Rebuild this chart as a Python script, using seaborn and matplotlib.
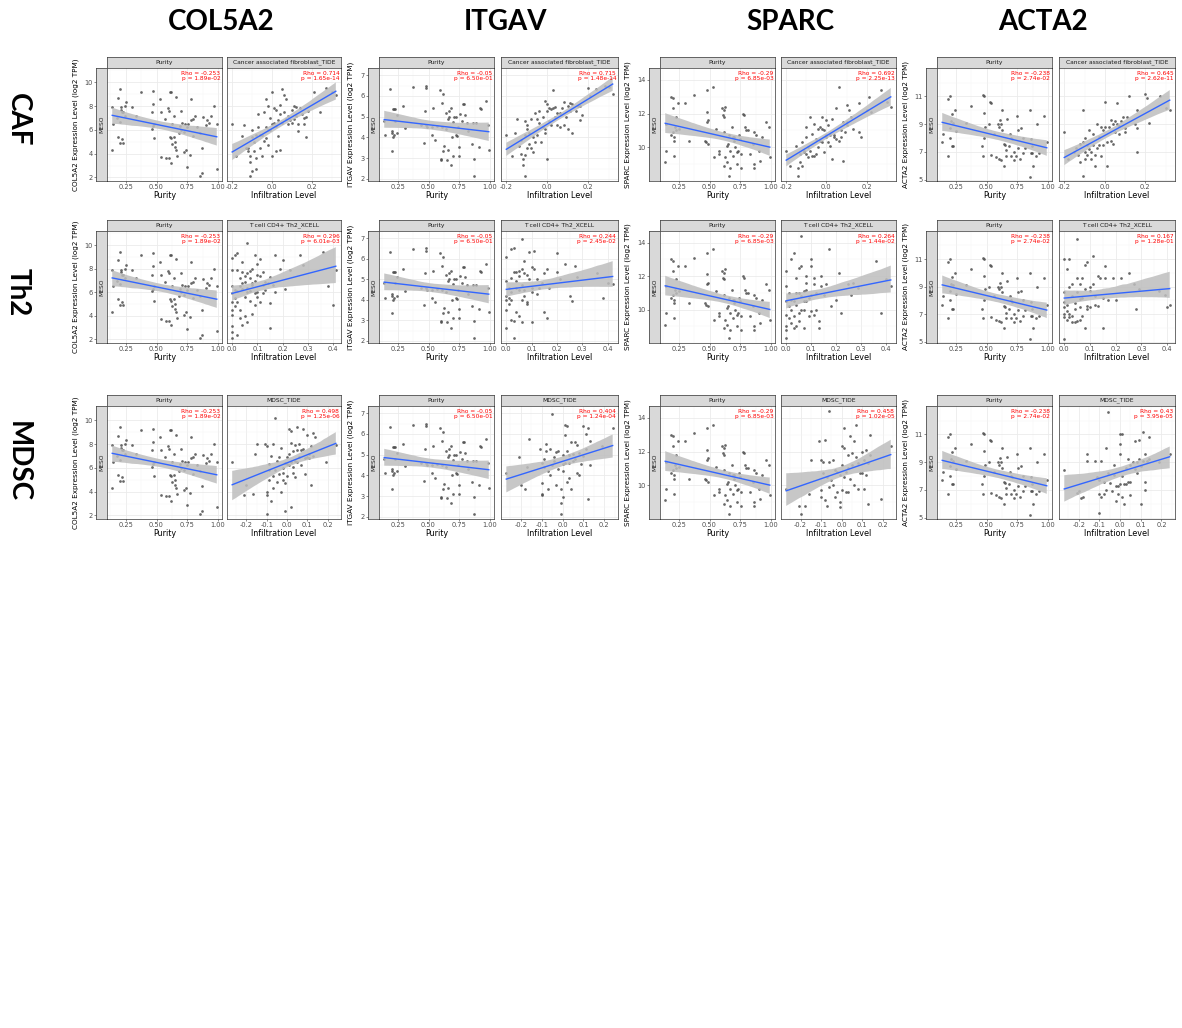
import numpy as np
import pandas as pd
import seaborn as sns
import matplotlib.pyplot as plt
from matplotlib.collections import PolyCollection
from matplotlib.ticker import AutoMinorLocator

W, H = 1182, 1028

genes = ["COL5A2", "ITGAV", "SPARC", "ACTA2"]
cells = ["CAF", "Th2", "MDSC"]
strip_titles = {"CAF": "Cancer associated fibroblast_TIDE",
                "Th2": "T cell CD4+ Th2_XCELL",
                "MDSC": "MDSC_TIDE"}

# purity vs expression (same panel in every row)
col5a2_purity = [(0.14, 7.9), (0.14, 4.3), (0.15, 6.5), (0.19, 8.7), (0.20, 9.4), (0.19, 5.4), (0.20, 4.9),
                 (0.21, 7.9), (0.21, 7.7), (0.22, 7.5), (0.22, 5.2), (0.23, 4.9), (0.23, 7.5), (0.24, 8.0),
                 (0.24, 7.2), (0.25, 8.3), (0.20, 6.7), (0.18, 7.0), (0.30, 7.9), (0.33, 7.2), (0.37, 9.2),
                 (0.47, 9.3), (0.47, 8.2), (0.46, 6.1), (0.47, 6.3), (0.48, 5.3), (0.46, 7.5), (0.48, 6.5),
                 (0.53, 8.6), (0.54, 7.5), (0.54, 3.7), (0.57, 6.9), (0.58, 3.6), (0.59, 7.8), (0.60, 7.6),
                 (0.61, 9.2), (0.62, 9.2), (0.61, 5.4), (0.62, 5.3), (0.60, 3.6), (0.62, 3.2), (0.63, 4.8),
                 (0.63, 6.5), (0.64, 7.2), (0.64, 5.4), (0.65, 5.0), (0.65, 4.6), (0.66, 8.8), (0.66, 4.3),
                 (0.67, 3.8), (0.68, 5.7), (0.69, 6.3), (0.70, 7.6), (0.70, 6.0), (0.71, 6.6), (0.72, 5.8),
                 (0.72, 4.1), (0.73, 6.5), (0.74, 4.3), (0.75, 2.9), (0.75, 6.2), (0.76, 6.5), (0.77, 3.9),
                 (0.78, 8.6), (0.78, 6.8), (0.80, 6.9), (0.80, 5.5), (0.81, 7.2), (0.83, 6.2), (0.85, 5.7),
                 (0.85, 2.1), (0.87, 4.5), (0.87, 2.4), (0.88, 7.1), (0.90, 6.4), (0.91, 6.8), (0.93, 6.6),
                 (0.94, 7.2), (0.97, 8.0), (0.99, 6.5), (0.99, 2.7)]
itgav_purity = [(0.14, 4.8), (0.15, 4.1), (0.19, 6.35), (0.20, 3.35), (0.20, 4.3), (0.20, 4.2), (0.21, 5.35),
                (0.21, 4.0), (0.22, 5.35), (0.22, 4.1), (0.23, 5.35), (0.23, 4.8), (0.24, 5.1), (0.24, 4.2),
                (0.29, 5.5), (0.31, 4.45), (0.37, 6.45), (0.46, 3.75), (0.47, 5.3), (0.48, 6.5), (0.48, 6.4),
                (0.48, 4.6), (0.49, 4.5), (0.53, 4.5), (0.53, 4.1), (0.54, 5.4), (0.55, 3.9), (0.59, 6.3),
                (0.60, 2.95), (0.60, 2.9), (0.61, 5.65), (0.61, 4.5), (0.62, 6.1), (0.62, 3.35), (0.63, 3.6),
                (0.64, 5.2), (0.64, 4.4), (0.65, 2.9), (0.66, 3.4), (0.66, 4.9), (0.67, 5.3), (0.67, 5.0),
                (0.68, 2.65), (0.68, 5.4), (0.69, 4.0), (0.70, 4.75), (0.70, 3.1), (0.71, 5.0), (0.72, 5.0),
                (0.72, 4.1), (0.73, 4.05), (0.74, 4.5), (0.75, 3.55), (0.75, 3.1), (0.76, 5.15), (0.77, 4.8),
                (0.78, 5.6), (0.79, 5.6), (0.80, 5.1), (0.81, 4.7), (0.82, 4.3), (0.85, 3.7), (0.86, 4.7),
                (0.87, 2.95), (0.87, 2.15), (0.89, 4.7), (0.91, 3.55), (0.92, 5.4), (0.93, 5.35), (0.97, 5.75),
                (0.98, 4.6), (0.99, 3.4), (0.57, 4.55), (0.44, 4.6)]
sparc_purity = [(0.14, 9.1), (0.15, 9.8), (0.15, 11.4), (0.19, 13.0), (0.20, 12.9), (0.20, 12.3), (0.19, 10.7),
                (0.20, 10.9), (0.21, 10.6), (0.21, 9.5), (0.21, 10.4), (0.22, 11.2), (0.23, 11.8), (0.23, 11.0),
                (0.24, 12.6), (0.25, 11.1), (0.30, 12.6), (0.33, 10.4), (0.37, 13.1), (0.46, 10.4), (0.47, 10.3),
                (0.48, 13.4), (0.48, 12.1), (0.48, 11.5), (0.49, 11.6), (0.49, 10.2), (0.53, 13.6), (0.54, 9.4),
                (0.55, 11.1), (0.58, 9.8), (0.58, 9.6), (0.60, 12.3), (0.61, 11.9), (0.62, 11.8), (0.62, 12.2),
                (0.62, 10.9), (0.62, 8.9), (0.63, 12.4), (0.63, 9.4), (0.64, 10.1), (0.64, 9.1), (0.65, 10.2),
                (0.66, 10.7), (0.66, 8.3), (0.67, 9.8), (0.67, 8.8), (0.68, 11.2), (0.69, 10.6), (0.69, 9.5),
                (0.70, 10.6), (0.70, 10.4), (0.71, 10.0), (0.72, 9.7), (0.72, 9.0), (0.73, 9.8), (0.74, 10.7),
                (0.75, 10.5), (0.76, 9.6), (0.76, 8.8), (0.77, 12.0), (0.78, 11.9), (0.79, 11.2), (0.80, 11.0),
                (0.81, 11.0), (0.83, 9.6), (0.85, 10.2), (0.86, 10.9), (0.86, 8.8), (0.86, 9.0), (0.88, 10.7),
                (0.90, 9.8), (0.91, 9.2), (0.93, 10.6), (0.96, 11.5), (0.98, 11.2), (0.99, 9.4)]
acta2_purity = [(0.14, 7.7), (0.15, 8.3), (0.19, 10.8), (0.20, 11.0), (0.19, 6.7), (0.20, 8.0), (0.20, 8.7),
                (0.21, 9.2), (0.22, 9.7), (0.22, 7.4), (0.23, 9.1), (0.23, 7.4), (0.24, 10.0), (0.25, 8.5),
                (0.33, 9.1), (0.37, 10.3), (0.46, 7.4), (0.47, 6.7), (0.47, 11.1), (0.48, 11.0), (0.48, 9.8),
                (0.48, 8.0), (0.49, 8.8), (0.52, 9.0), (0.53, 10.6), (0.54, 10.5), (0.54, 6.8), (0.56, 8.3),
                (0.58, 6.6), (0.59, 9.0), (0.60, 6.5), (0.60, 8.8), (0.61, 9.3), (0.62, 9.0), (0.62, 6.4),
                (0.63, 10.0), (0.63, 8.6), (0.64, 7.6), (0.64, 6.0), (0.65, 7.5), (0.66, 7.1), (0.66, 6.7),
                (0.67, 9.4), (0.68, 7.4), (0.69, 8.3), (0.70, 8.0), (0.70, 6.7), (0.71, 7.9), (0.72, 7.0),
                (0.72, 6.4), (0.74, 6.7), (0.75, 9.6), (0.76, 8.6), (0.76, 7.3), (0.77, 6.5), (0.78, 8.7),
                (0.80, 8.0), (0.80, 6.9), (0.81, 7.3), (0.85, 10.0), (0.86, 7.9), (0.86, 6.9), (0.87, 6.9),
                (0.87, 7.4), (0.85, 5.2), (0.88, 6.0), (0.90, 6.7), (0.91, 9.0), (0.93, 6.9), (0.97, 9.6),
                (0.99, 7.7)]

# infiltration level vs expression
col5a2_caf = [(-0.20, 6.5), (-0.18, 3.8), (-0.15, 5.5), (-0.14, 6.4), (-0.13, 4.5), (-0.12, 4.5), (-0.12, 4.2),
              (-0.11, 3.8), (-0.11, 2.1), (-0.11, 3.3), (-0.10, 2.5), (-0.10, 6.0), (-0.10, 5.4), (-0.09, 5.0),
              (-0.09, 4.2), (-0.08, 5.6), (-0.08, 3.6), (-0.08, 2.7), (-0.07, 7.3), (-0.07, 6.2), (-0.06, 5.6),
              (-0.05, 3.8), (-0.05, 5.6), (-0.04, 5.1), (-0.04, 7.5), (-0.03, 6.2), (-0.03, 8.6), (-0.03, 5.3),
              (-0.02, 8.0), (-0.02, 6.0), (-0.01, 7.0), (-0.01, 6.0), (0.00, 3.8), (0.00, 9.2), (0.00, 6.5),
              (0.01, 7.8), (0.01, 6.6), (0.02, 7.7), (0.02, 6.3), (0.03, 6.8), (0.03, 5.5), (0.04, 8.1),
              (0.04, 7.3), (0.04, 4.3), (0.05, 9.4), (0.05, 6.6), (0.06, 8.9), (0.06, 7.5), (0.07, 8.6),
              (0.07, 6.9), (0.08, 7.2), (0.08, 6.5), (0.09, 6.8), (0.10, 7.7), (0.10, 6.6), (0.11, 8.0),
              (0.11, 6.9), (0.12, 7.2), (0.12, 7.9), (0.13, 6.5), (0.13, 5.9), (0.14, 7.8), (0.15, 7.3),
              (0.16, 7.0), (0.16, 6.5), (0.17, 7.1), (0.17, 5.4), (0.18, 7.6), (0.21, 9.2), (0.24, 7.5),
              (0.27, 9.5), (0.30, 9.2), (0.32, 8.9), (-0.06, 4.5), (-0.02, 4.7), (0.02, 4.2)]
itgav_caf = [(-0.20, 4.1), (-0.17, 3.1), (-0.16, 4.2), (-0.15, 4.9), (-0.14, 3.6), (-0.13, 3.9), (-0.13, 3.2),
             (-0.12, 2.95), (-0.12, 2.65), (-0.11, 4.8), (-0.11, 4.1), (-0.11, 3.15), (-0.11, 2.15), (-0.10, 4.6),
             (-0.10, 4.4), (-0.10, 3.5), (-0.09, 4.2), (-0.09, 3.7), (-0.08, 3.5), (-0.08, 4.9), (-0.07, 4.0),
             (-0.07, 3.3), (-0.06, 5.2), (-0.05, 4.9), (-0.05, 4.1), (-0.04, 5.3), (-0.04, 4.7), (-0.03, 3.8),
             (-0.02, 5.0), (-0.02, 4.5), (-0.01, 5.75), (-0.01, 4.2), (0.00, 5.6), (0.00, 5.3), (0.00, 2.95),
             (0.01, 4.8), (0.01, 5.4), (0.02, 5.35), (0.02, 4.6), (0.03, 5.4), (0.03, 6.3), (0.04, 5.45),
             (0.04, 5.0), (0.05, 4.6), (0.05, 5.2), (0.06, 5.2), (0.06, 4.5), (0.07, 5.4), (0.08, 4.6),
             (0.08, 5.7), (0.09, 5.0), (0.10, 5.5), (0.10, 4.4), (0.11, 5.65), (0.11, 5.3), (0.12, 5.6),
             (0.12, 4.2), (0.14, 5.3), (0.15, 5.5), (0.16, 5.5), (0.16, 4.85), (0.17, 5.1), (0.20, 6.4),
             (0.21, 6.0), (0.24, 6.35), (0.28, 6.5), (0.30, 6.45), (0.32, 6.1), (-0.06, 3.8), (-0.01, 4.4)]
sparc_caf = [(-0.20, 9.8), (-0.18, 8.9), (-0.15, 10.1), (-0.14, 8.8), (-0.14, 8.3), (-0.13, 9.1), (-0.13, 9.6),
             (-0.12, 10.3), (-0.12, 8.9), (-0.11, 9.8), (-0.11, 9.7), (-0.10, 11.2), (-0.10, 10.6), (-0.10, 9.6),
             (-0.09, 10.0), (-0.09, 9.4), (-0.08, 11.8), (-0.08, 9.8), (-0.07, 10.8), (-0.07, 9.5), (-0.06, 11.4),
             (-0.06, 9.5), (-0.05, 10.5), (-0.05, 9.6), (-0.04, 11.1), (-0.04, 10.0), (-0.03, 11.2), (-0.03, 10.4),
             (-0.02, 11.8), (-0.02, 10.3), (-0.01, 11.0), (-0.01, 9.7), (0.00, 11.6), (0.00, 10.6), (0.00, 10.7),
             (0.01, 11.3), (0.01, 10.3), (0.02, 10.1), (0.02, 10.7), (0.03, 9.3), (0.03, 11.7), (0.04, 10.6),
             (0.04, 10.7), (0.05, 10.5), (0.05, 12.3), (0.06, 13.6), (0.06, 10.4), (0.07, 10.6), (0.08, 11.5),
             (0.08, 9.2), (0.09, 10.9), (0.10, 11.5), (0.10, 12.5), (0.10, 11.3), (0.11, 12.2), (0.12, 11.8),
             (0.13, 11.1), (0.16, 12.6), (0.16, 10.9), (0.17, 10.6), (0.20, 12.2), (0.21, 13.0), (0.22, 12.1),
             (0.27, 13.4), (0.30, 12.7), (0.32, 12.4), (-0.02, 11.1), (0.07, 11.0)]
acta2_caf = [(-0.20, 8.4), (-0.18, 6.5), (-0.15, 7.0), (-0.14, 7.3), (-0.13, 6.8), (-0.12, 7.6), (-0.12, 6.3),
             (-0.11, 5.25), (-0.11, 7.7), (-0.11, 10.0), (-0.10, 7.0), (-0.10, 8.0), (-0.10, 6.5), (-0.09, 7.5),
             (-0.09, 6.8), (-0.08, 8.6), (-0.08, 7.2), (-0.07, 7.0), (-0.07, 6.5), (-0.06, 8.3), (-0.06, 7.5),
             (-0.05, 6.8), (-0.05, 6.0), (-0.04, 7.3), (-0.03, 8.1), (-0.03, 7.5), (-0.02, 8.8), (-0.02, 6.7),
             (-0.01, 8.6), (-0.01, 7.5), (0.00, 10.6), (0.00, 8.8), (0.01, 7.7), (0.01, 6.0), (0.02, 8.8),
             (0.03, 9.3), (0.03, 7.8), (0.04, 9.0), (0.04, 7.6), (0.05, 9.2), (0.05, 8.4), (0.06, 10.5),
             (0.06, 9.0), (0.07, 8.9), (0.08, 9.2), (0.09, 9.5), (0.10, 8.7), (0.10, 8.4), (0.11, 9.5),
             (0.12, 11.0), (0.15, 9.0), (0.16, 10.0), (0.16, 7.0), (0.16, 8.7), (0.20, 11.2), (0.21, 10.9),
             (0.22, 9.1), (0.27, 11.0), (0.30, 10.2), (0.32, 10.0), (-0.04, 9.0), (0.07, 8.3)]

col5a2_th2 = [(0.00, 8.9), (0.00, 7.9), (0.00, 6.5), (0.00, 5.9), (0.00, 5.2), (0.00, 4.5), (0.00, 4.1), (0.00, 3.1),
              (0.00, 2.6), (0.00, 2.1), (0.01, 6.2), (0.01, 5.5), (0.01, 4.8), (0.01, 9.2), (0.02, 9.3), (0.02, 7.9),
              (0.02, 6.1), (0.02, 2.4), (0.02, 5.2), (0.03, 7.2), (0.03, 6.5), (0.03, 4.5), (0.03, 3.8), (0.04, 7.7),
              (0.04, 6.8), (0.04, 6.3), (0.04, 3.2), (0.05, 7.4), (0.05, 6.9), (0.05, 5.6), (0.05, 4.0), (0.06, 10.2),
              (0.06, 7.6), (0.06, 6.4), (0.06, 6.0), (0.06, 3.5), (0.07, 7.8), (0.07, 7.2), (0.07, 5.3), (0.08, 8.0),
              (0.08, 6.6), (0.08, 6.8), (0.09, 9.2), (0.09, 7.0), (0.09, 5.9), (0.09, 4.9), (0.10, 8.4), (0.10, 7.5),
              (0.10, 6.0), (0.10, 5.6), (0.11, 8.8), (0.11, 7.4), (0.12, 7.7), (0.12, 6.6), (0.12, 5.9), (0.13, 6.9),
              (0.13, 6.2), (0.14, 6.8), (0.15, 7.3), (0.15, 5.1), (0.15, 3.0), (0.16, 6.6), (0.17, 9.2), (0.17, 6.0),
              (0.19, 8.0), (0.20, 8.7), (0.21, 6.3), (0.23, 7.9), (0.27, 9.2), (0.28, 8.3), (0.36, 9.4), (0.38, 6.5),
              (0.40, 4.9), (0.41, 7.9), (0.07, 6.1), (0.11, 5.2), (0.04, 8.6), (0.08, 4.2)]
itgav_th2 = [(0.00, 6.1), (0.00, 4.9), (0.00, 4.2), (0.00, 4.0), (0.00, 3.5), (0.00, 2.65), (0.01, 4.6), (0.01, 4.1),
             (0.01, 3.8), (0.02, 6.45), (0.02, 5.05), (0.02, 4.4), (0.02, 3.0), (0.03, 6.5), (0.03, 5.35), (0.03, 2.95),
             (0.03, 2.15), (0.04, 5.35), (0.04, 4.9), (0.04, 4.6), (0.04, 3.4), (0.05, 5.15), (0.05, 4.5), (0.05, 3.2),
             (0.05, 5.4), (0.06, 5.5), (0.06, 6.95), (0.06, 4.7), (0.06, 4.0), (0.06, 2.9), (0.07, 5.3), (0.07, 4.5),
             (0.07, 4.2), (0.08, 5.2), (0.08, 3.9), (0.08, 3.8), (0.09, 6.35), (0.09, 5.0), (0.10, 5.6), (0.10, 4.6),
             (0.10, 4.4), (0.10, 2.9), (0.11, 6.4), (0.11, 5.5), (0.12, 5.0), (0.12, 4.3), (0.13, 4.6), (0.14, 4.8),
             (0.15, 5.3), (0.15, 3.4), (0.16, 5.5), (0.16, 3.1), (0.17, 4.6), (0.20, 6.3), (0.20, 5.35), (0.21, 5.0),
             (0.23, 5.75), (0.25, 4.2), (0.26, 3.95), (0.27, 5.65), (0.28, 5.1), (0.36, 5.3), (0.38, 4.1), (0.40, 4.8),
             (0.42, 4.75), (0.02, 4.0), (0.07, 5.9)]
sparc_th2 = [(0.00, 12.3), (0.00, 11.4), (0.00, 10.5), (0.00, 9.7), (0.00, 9.0), (0.00, 8.8), (0.00, 8.3), (0.01, 11.0),
             (0.01, 10.2), (0.01, 9.5), (0.02, 13.0), (0.02, 10.6), (0.02, 10.0), (0.02, 9.2), (0.03, 13.4), (0.03, 10.5),
             (0.03, 9.6), (0.03, 8.9), (0.04, 11.9), (0.04, 11.0), (0.04, 10.3), (0.04, 9.0), (0.05, 12.5), (0.05, 11.0),
             (0.05, 9.8), (0.05, 9.3), (0.06, 14.4), (0.06, 12.6), (0.06, 10.8), (0.06, 10.0), (0.07, 11.1), (0.07, 10.0),
             (0.07, 8.9), (0.08, 12.0), (0.08, 11.6), (0.08, 11.2), (0.08, 10.5), (0.09, 10.7), (0.09, 9.6), (0.10, 13.0),
             (0.10, 12.6), (0.10, 10.9), (0.10, 9.9), (0.11, 11.9), (0.11, 11.5), (0.11, 9.7), (0.12, 11.0), (0.13, 9.3),
             (0.13, 8.9), (0.14, 12.0), (0.14, 11.4), (0.15, 10.9), (0.16, 11.5), (0.17, 13.6), (0.18, 10.2), (0.20, 10.6),
             (0.21, 12.2), (0.22, 9.8), (0.25, 11.5), (0.26, 10.9), (0.27, 11.6), (0.29, 11.3), (0.36, 12.9), (0.38, 9.8),
             (0.40, 11.8), (0.42, 11.4), (0.07, 10.5), (0.12, 10.0)]
acta2_th2 = [(0.00, 11.0), (0.00, 8.6), (0.00, 7.9), (0.00, 7.5), (0.00, 7.0), (0.00, 6.8), (0.00, 5.2), (0.01, 10.3),
             (0.01, 7.7), (0.01, 7.2), (0.01, 6.6), (0.02, 11.0), (0.02, 9.0), (0.02, 7.0), (0.02, 6.8), (0.03, 9.2),
             (0.03, 8.3), (0.03, 6.9), (0.03, 6.4), (0.04, 7.8), (0.04, 7.4), (0.04, 6.4), (0.05, 12.5), (0.05, 9.6),
             (0.05, 8.6), (0.05, 6.5), (0.06, 9.2), (0.06, 7.5), (0.06, 6.6), (0.07, 9.6), (0.07, 8.2), (0.07, 6.9),
             (0.08, 10.6), (0.08, 8.8), (0.08, 6.0), (0.09, 10.8), (0.09, 7.6), (0.09, 7.4), (0.10, 9.0), (0.10, 8.7),
             (0.10, 7.5), (0.11, 11.2), (0.11, 9.2), (0.12, 8.3), (0.12, 7.7), (0.13, 9.8), (0.14, 9.6), (0.15, 8.2),
             (0.15, 6.0), (0.16, 9.6), (0.16, 10.5), (0.17, 8.0), (0.19, 9.6), (0.20, 8.0), (0.22, 9.6), (0.25, 10.0),
             (0.27, 9.2), (0.28, 7.4), (0.29, 8.8), (0.37, 8.7), (0.39, 8.4), (0.40, 7.5), (0.41, 7.7), (0.06, 8.1),
             (0.13, 7.6)]

col5a2_mdsc = [(-0.27, 6.5), (-0.21, 3.7), (-0.20, 4.6), (-0.17, 3.8), (-0.16, 7.2), (-0.15, 8.0), (-0.11, 8.0),
               (-0.10, 4.0), (-0.10, 3.7), (-0.10, 2.1), (-0.10, 7.8), (-0.09, 6.3), (-0.09, 5.8), (-0.09, 5.0),
               (-0.08, 7.0), (-0.08, 3.2), (-0.07, 8.0), (-0.07, 5.3), (-0.07, 4.3), (-0.06, 10.2), (-0.06, 5.8),
               (-0.05, 6.6), (-0.05, 4.8), (-0.04, 5.5), (-0.03, 7.7), (-0.03, 4.0), (-0.02, 6.0), (-0.02, 5.0),
               (-0.01, 6.4), (-0.01, 4.7), (-0.01, 2.4), (0.00, 6.9), (0.00, 6.3), (0.00, 5.3), (0.01, 9.3),
               (0.01, 7.2), (0.01, 6.2), (0.02, 9.1), (0.02, 8.1), (0.02, 6.5), (0.02, 2.7), (0.03, 7.4), (0.03, 5.6),
               (0.04, 7.9), (0.04, 6.6), (0.04, 5.2), (0.05, 9.4), (0.05, 7.5), (0.05, 6.5), (0.06, 8.0), (0.07, 7.5),
               (0.07, 6.2), (0.08, 9.3), (0.08, 7.6), (0.09, 6.8), (0.09, 5.5), (0.10, 8.8), (0.10, 6.9), (0.11, 7.2),
               (0.11, 6.8), (0.12, 7.8), (0.12, 4.6), (0.13, 8.9), (0.13, 7.0), (0.14, 8.6), (0.19, 6.5), (0.24, 7.9),
               (0.06, 6.9), (-0.04, 6.9), (0.03, 6.1), (-0.02, 5.6)]
itgav_mdsc = [(-0.27, 4.1), (-0.21, 4.9), (-0.20, 3.55), (-0.18, 3.35), (-0.17, 4.4), (-0.16, 5.75), (-0.11, 5.3),
              (-0.10, 4.6), (-0.10, 3.65), (-0.10, 3.1), (-0.10, 3.05), (-0.09, 4.8), (-0.09, 4.4), (-0.08, 5.5),
              (-0.08, 5.2), (-0.07, 4.2), (-0.07, 3.35), (-0.06, 5.3), (-0.06, 4.0), (-0.05, 6.95), (-0.05, 4.5),
              (-0.04, 4.7), (-0.03, 5.15), (-0.03, 3.55), (-0.02, 5.2), (-0.02, 4.3), (-0.01, 3.35), (-0.01, 2.65),
              (-0.01, 2.15), (0.00, 5.0), (0.00, 4.55), (0.00, 4.2), (0.00, 2.95), (0.01, 6.45), (0.01, 5.95),
              (0.01, 4.6), (0.02, 6.4), (0.02, 5.2), (0.02, 3.7), (0.03, 5.0), (0.03, 4.6), (0.04, 5.6), (0.04, 3.35),
              (0.05, 5.05), (0.05, 4.7), (0.06, 5.6), (0.06, 4.8), (0.07, 4.1), (0.08, 5.1), (0.08, 4.0), (0.09, 4.55),
              (0.10, 6.4), (0.10, 4.95), (0.11, 6.0), (0.11, 5.3), (0.12, 6.3), (0.12, 2.85), (0.13, 5.65), (0.13, 4.5),
              (0.19, 5.4), (0.24, 6.3), (-0.04, 4.9), (0.07, 5.45), (0.03, 3.9)]
sparc_mdsc = [(-0.27, 9.8), (-0.21, 8.8), (-0.20, 8.3), (-0.18, 8.8), (-0.16, 9.5), (-0.15, 11.5), (-0.11, 12.6),
              (-0.10, 11.5), (-0.10, 9.7), (-0.10, 9.3), (-0.09, 10.7), (-0.09, 11.4), (-0.08, 12.7), (-0.08, 9.1),
              (-0.07, 10.5), (-0.07, 8.8), (-0.06, 14.4), (-0.06, 11.4), (-0.06, 9.9), (-0.05, 10.3), (-0.04, 11.5),
              (-0.03, 10.9), (-0.03, 9.3), (-0.02, 10.8), (-0.02, 9.6), (-0.01, 10.6), (-0.01, 9.0), (-0.01, 8.7),
              (0.00, 12.3), (0.00, 11.2), (0.00, 9.7), (0.01, 13.4), (0.01, 12.2), (0.01, 10.5), (0.02, 10.8),
              (0.02, 9.6), (0.03, 11.8), (0.03, 11.0), (0.04, 12.9), (0.04, 10.4), (0.05, 11.9), (0.05, 11.2),
              (0.06, 10.0), (0.07, 13.6), (0.07, 11.7), (0.08, 9.8), (0.08, 11.3), (0.09, 10.7), (0.10, 12.0),
              (0.10, 10.7), (0.11, 11.5), (0.11, 9.8), (0.12, 12.1), (0.12, 10.6), (0.13, 8.9), (0.13, 11.3),
              (0.14, 13.0), (0.14, 11.8), (0.19, 9.2), (0.24, 12.3), (0.06, 12.6), (-0.04, 10.0), (0.03, 9.6)]
acta2_mdsc = [(-0.27, 8.4), (-0.21, 6.8), (-0.20, 6.9), (-0.19, 6.4), (-0.18, 6.5), (-0.16, 9.6), (-0.16, 9.1),
              (-0.12, 9.1), (-0.11, 7.9), (-0.10, 7.7), (-0.10, 6.7), (-0.10, 5.3), (-0.09, 9.1), (-0.09, 6.5),
              (-0.08, 7.6), (-0.08, 6.7), (-0.07, 10.0), (-0.07, 7.0), (-0.06, 12.6), (-0.06, 8.2), (-0.05, 7.5),
              (-0.04, 6.9), (-0.03, 8.1), (-0.02, 7.3), (-0.02, 6.2), (-0.01, 7.3), (-0.01, 6.7), (0.00, 11.0),
              (0.00, 10.3), (0.00, 9.6), (0.00, 7.4), (0.01, 11.0), (0.01, 8.0), (0.01, 6.5), (0.02, 7.4), (0.02, 6.0),
              (0.03, 8.6), (0.03, 7.4), (0.04, 9.2), (0.04, 7.6), (0.05, 8.8), (0.05, 6.6), (0.06, 9.0), (0.07, 10.5),
              (0.07, 8.5), (0.08, 9.0), (0.08, 8.2), (0.09, 10.6), (0.09, 9.2), (0.10, 8.7), (0.10, 6.0), (0.11, 11.2),
              (0.11, 9.1), (0.12, 9.6), (0.12, 7.6), (0.12, 7.0), (0.13, 9.1), (0.14, 10.8), (0.14, 9.2), (0.19, 9.0),
              (0.24, 9.6), (0.05, 7.6), (-0.03, 8.8)]

purity_data = {"COL5A2": col5a2_purity, "ITGAV": itgav_purity, "SPARC": sparc_purity, "ACTA2": acta2_purity}
infil_data = {
    ("COL5A2", "CAF"): col5a2_caf, ("ITGAV", "CAF"): itgav_caf, ("SPARC", "CAF"): sparc_caf, ("ACTA2", "CAF"): acta2_caf,
    ("COL5A2", "Th2"): col5a2_th2, ("ITGAV", "Th2"): itgav_th2, ("SPARC", "Th2"): sparc_th2, ("ACTA2", "Th2"): acta2_th2,
    ("COL5A2", "MDSC"): col5a2_mdsc, ("ITGAV", "MDSC"): itgav_mdsc, ("SPARC", "MDSC"): sparc_mdsc, ("ACTA2", "MDSC"): acta2_mdsc,
}

purity_stats = {"COL5A2": ("-0.253", "1.89e-02"), "ITGAV": ("-0.05", "6.50e-01"),
                "SPARC": ("-0.29", "6.85e-03"), "ACTA2": ("-0.238", "2.74e-02")}
infil_stats = {
    ("COL5A2", "CAF"): ("0.714", "1.65e-14"), ("ITGAV", "CAF"): ("0.715", "1.48e-14"),
    ("SPARC", "CAF"): ("0.692", "2.25e-13"), ("ACTA2", "CAF"): ("0.645", "2.62e-11"),
    ("COL5A2", "Th2"): ("0.296", "6.01e-03"), ("ITGAV", "Th2"): ("0.244", "2.45e-02"),
    ("SPARC", "Th2"): ("0.264", "1.44e-02"), ("ACTA2", "Th2"): ("0.167", "1.28e-01"),
    ("COL5A2", "MDSC"): ("0.498", "1.25e-06"), ("ITGAV", "MDSC"): ("0.404", "1.24e-04"),
    ("SPARC", "MDSC"): ("0.458", "1.02e-05"), ("ACTA2", "MDSC"): ("0.43", "3.95e-05"),
}

y_ticks = {"COL5A2": [2, 4, 6, 8, 10], "ITGAV": [2, 3, 4, 5, 6, 7], "SPARC": [10, 12, 14], "ACTA2": [5, 7, 9, 11]}
y_lims = {"COL5A2": (1.7, 11.2), "ITGAV": (1.9, 7.35), "SPARC": (8.0, 14.7), "ACTA2": (4.9, 13.05)}
x_ticks = {"Purity": ([0.25, 0.5, 0.75, 1.0], ["0.25", "0.50", "0.75", "1.00"]),
           "CAF": ([-0.2, 0.0, 0.2], ["-0.2", "0.0", "0.2"]),
           "Th2": ([0.0, 0.1, 0.2, 0.3, 0.4], ["0.0", "0.1", "0.2", "0.3", "0.4"]),
           "MDSC": ([-0.2, -0.1, 0.0, 0.1, 0.2], ["-0.2", "-0.1", "0.0", "0.1", "0.2"])}

# layout in pixels
panel_x = {"COL5A2": ((107, 222), (227, 341)), "ITGAV": ((379, 494), (501, 618)),
           "SPARC": ((660, 775), (781, 896)), "ACTA2": ((937, 1052), (1059, 1175))}
ylab_x = {"COL5A2": 76, "ITGAV": 351, "SPARC": 628, "ACTA2": 906}
row_y = [(57, 68, 181), (220, 231, 343), (395, 406, 519)]
header_x = {"COL5A2": 221, "ITGAV": 505, "SPARC": 790, "ACTA2": 1043}
row_label_y = [120, 292, 462]

fig = plt.figure(figsize=(W / 100, H / 100), dpi=100)
fig.patch.set_facecolor("white")


def add_px(x0, y0, x1, y1):
    return fig.add_axes([x0 / W, 1 - y1 / H, (x1 - x0) / W, (y1 - y0) / H])


def strip(x0, y0, x1, y1, label, rotation=0, gene=None):
    sax = add_px(x0, y0, x1, y1)
    sax.set_facecolor("#D9D9D9")
    sax.set_xticks([])
    sax.set_yticks([])
    for s in sax.spines.values():
        s.set_color("#333333")
        s.set_linewidth(0.5)
    if gene is not None:
        # the y axis of the row sits outside the MESO strip, as in ggplot
        sax.set_ylim(*y_lims[gene])
        sax.set_yticks(y_ticks[gene])
        sax.tick_params(axis="y", length=1.5, width=0.4, pad=1, labelsize=4.8,
                        color="#333333", labelcolor="#4D4D4D")
    sax.text(0.5, 0.5, label, ha="center", va="center", rotation=rotation,
             fontsize=4.3, color="#1A1A1A", transform=sax.transAxes)


def panel(ax, pts, gene, kind, stats):
    df = pd.DataFrame(pts, columns=["x", "y"])
    sns.regplot(data=df, x="x", y="y", ax=ax, seed=0,
                scatter_kws=dict(s=3.8, color="#4D4D4D", alpha=0.85, linewidths=0),
                line_kws=dict(color="#3366FF", lw=1.0))
    for c in ax.collections:
        if isinstance(c, PolyCollection):
            c.set_facecolor("#BEBEBE")
            c.set_alpha(0.85)
            c.set_edgecolor("none")
    ax.set_ylim(*y_lims[gene])
    ax.set_yticks(y_ticks[gene])
    ticks, labels = x_ticks[kind]
    ax.set_xticks(ticks)
    ax.set_xticklabels(labels)
    ax.xaxis.set_minor_locator(AutoMinorLocator(2))
    ax.yaxis.set_minor_locator(AutoMinorLocator(2))
    ax.grid(which="major", color="#EBEBEB", lw=0.6)
    ax.grid(which="minor", color="#F5F5F5", lw=0.35)
    ax.set_axisbelow(True)
    ax.tick_params(which="major", length=1.5, width=0.4, pad=1, labelsize=4.8,
                   color="#333333", labelcolor="#4D4D4D")
    ax.tick_params(which="minor", length=0)
    ax.tick_params(axis="y", left=False, labelleft=False)
    for s in ax.spines.values():
        s.set_color("#333333")
        s.set_linewidth(0.5)
    ax.set_ylabel("")
    ax.set_xlabel("Purity" if kind == "Purity" else "Infiltration Level", fontsize=5.8, labelpad=0.5)
    ax.text(0.985, 0.975, "Rho = %s\np = %s" % stats, transform=ax.transAxes, ha="right", va="top",
            fontsize=4.2, color="#FF0000", linespacing=0.95)


for r, cell in enumerate(cells):
    s0, p0, p1 = row_y[r]
    for gene in genes:
        (lx0, lx1), (rx0, rx1) = panel_x[gene]
        strip(lx0, s0, lx1, p0, "Purity")
        strip(rx0, s0, rx1, p0, strip_titles[cell])
        strip(lx0 - 11, p0, lx0, p1, "MESO", rotation=90, gene=gene)
        ax_l = add_px(lx0, p0, lx1, p1)
        panel(ax_l, purity_data[gene], gene, "Purity", purity_stats[gene])
        ax_r = add_px(rx0, p0, rx1, p1)
        panel(ax_r, infil_data[(gene, cell)], gene, cell, infil_stats[(gene, cell)])
        fig.text(ylab_x[gene] / W, 1 - (p0 + p1) / 2 / H, gene + " Expression Level (log2 TPM)",
                 rotation=90, ha="center", va="center", fontsize=5.2)

for gene in genes:
    fig.text(header_x[gene] / W, 1 - 22 / H, gene, ha="center", va="center",
             fontsize=20, fontweight="bold", family=["Lato", "DejaVu Sans"])
for r, cell in enumerate(cells):
    fig.text(18 / W, 1 - row_label_y[r] / H, cell, ha="center", va="center", rotation=-90,
             fontsize=20, fontweight="bold", family=["Lato", "DejaVu Sans"])

fig.savefig("out.png", dpi=100, facecolor="white")
